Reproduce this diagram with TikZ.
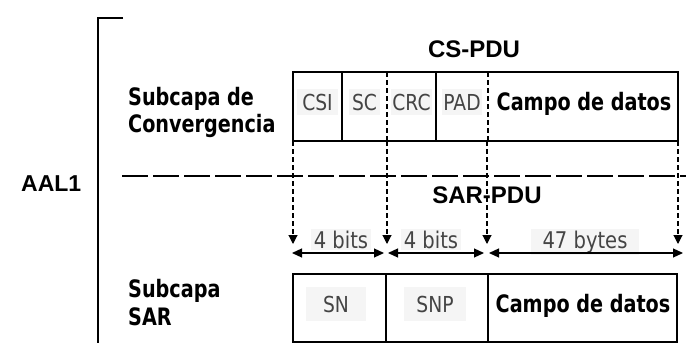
\documentclass[tikz,border=0pt]{standalone}
\usepackage{fontspec}
\usetikzlibrary{arrows.meta}
\newfontfamily\lsans{Liberation Sans}
\newfontfamily\tahb[FakeStretch=0.8]{DejaVu Sans}
\newfontfamily\tahr[FakeStretch=0.85]{DejaVu Sans}
\definecolor{labgray}{HTML}{444444}
\definecolor{bggray}{HTML}{F5F5F5}
\tikzset{
  big/.style={font=\lsans\bfseries\fontsize{24}{28}\selectfont, inner sep=0pt, anchor=base},
  sub/.style={font=\tahb\bfseries\fontsize{24}{28}\selectfont, inner sep=0pt, anchor=base west},
  campo/.style={font=\tahb\bfseries\fontsize{24}{27}\selectfont, inner sep=0pt, anchor=base},
  field/.style={font=\tahr\fontsize{22}{24}\selectfont, text=labgray, fill=bggray, inner xsep=5pt, inner ysep=5pt, anchor=base},
  bits/.style={font=\tahr\fontsize{23}{25}\selectfont, text=labgray, fill=bggray, inner xsep=3pt, inner ysep=2pt, anchor=base},
  boxline/.style={line width=1.3pt},
  vdash/.style={line width=1.1pt, dash pattern=on 5pt off 3pt},
  varrow/.style={vdash, -{Triangle[length=9pt,width=9pt]}},
  dim/.style={line width=1.2pt, {Triangle[length=10pt,width=9pt]}-{Triangle[length=10pt,width=9pt]}},
}
\begin{document}
\begin{tikzpicture}[x=1pt,y=-1pt]
\useasboundingbox (0,0) rectangle (686,343);
% bracket
\coordinate (br1) at (123,18);
\coordinate (br2) at (98,18);
\coordinate (br3) at (98,343);
\draw[line width=1.6pt] (br1) -- (br2) -- (br3);
\node[big, anchor=base west, font=\lsans\bfseries\fontsize{23}{27}\selectfont] (aal) at (21,191) {AAL1};
% left labels
\node[sub] (sc1) at (128,105) {Subcapa de};
\node[sub] (sc2) at (128,132) {Convergencia};
\node[sub] (ss1) at (128,297) {Subcapa};
\node[sub] (ss2) at (128,325) {SAR};
% CS-PDU
\node[big] (cspdu) at (474,57) {CS-PDU};
\coordinate (csnw) at (293,72);
\coordinate (csse) at (678,141);
\coordinate (c1t) at (342,72); \coordinate (c1b) at (342,141);
\coordinate (c2t) at (387,72); \coordinate (c2b) at (387,141);
\coordinate (c3t) at (436,72); \coordinate (c3b) at (436,141);
\coordinate (c4t) at (488,72); \coordinate (c4b) at (488,141);
\node[field] (csi) at (317.5,110) {CSI};
\node[field, inner xsep=3pt] (scf) at (364.5,110) {SC};
\node[field, inner xsep=1pt] (crc) at (411.5,110) {CRC};
\node[field, inner xsep=1pt] (pad) at (462,110) {PAD};
\node[campo] (campo1) at (584,110) {Campo de datos};
\draw[boxline] (csnw) rectangle (csse);
\draw[boxline] (c1t) -- (c1b);
\draw[boxline] (c3t) -- (c3b);
\draw[vdash] (c2t) -- (c2b);
\draw[vdash] (c4t) -- (c4b);
% separator
\coordinate (hl) at (122,176);
\coordinate (hr) at (686,176);
\draw[line width=1.1pt, dash pattern=on 26pt off 5pt] (hl) -- (hr);
% SAR-PDU
\node[big] (sarpdu) at (487,203) {SAR-PDU};
% bits labels
\node[bits] (b1) at (341,248) {4 bits};
\node[bits] (b2) at (431,248) {4 bits};
\node[bits, inner xsep=12pt] (b3) at (585,248) {47 bytes};
% vertical arrows
\coordinate (a1) at (293,141); \coordinate (t1) at (293,244);
\coordinate (a2) at (387,141); \coordinate (t2) at (387,244);
\coordinate (a3) at (487,141); \coordinate (t3) at (487,244);
\coordinate (a4) at (678,141); \coordinate (t4) at (678,244);
\draw[varrow] (a1) -- (t1);
\draw[varrow] (a2) -- (t2);
\draw[varrow] (a3) -- (t3);
\draw[varrow] (a4) -- (t4);
% dimension arrows
\coordinate (d0) at (292,253);
\coordinate (d1) at (384,253);
\coordinate (d2) at (388,253);
\coordinate (d3) at (484,253);
\coordinate (d4) at (489,253);
\coordinate (d5) at (683,253);
\draw[dim] (d0) -- (d1);
\draw[dim] (d2) -- (d3);
\draw[dim] (d4) -- (d5);
% SAR box
\coordinate (snw) at (293,274);
\coordinate (sse) at (677,342);
\coordinate (s1t) at (386,274); \coordinate (s1b) at (386,342);
\coordinate (s2t) at (488,274); \coordinate (s2b) at (488,342);
\node[field, inner xsep=17pt, inner ysep=9pt] (sn) at (336,312) {SN};
\node[field, inner xsep=12pt, inner ysep=9pt] (snp) at (435,312) {SNP};
\node[campo] (campo2) at (583,312) {Campo de datos};
\draw[boxline] (snw) rectangle (sse);
\draw[boxline] (s1t) -- (s1b);
\draw[boxline] (s2t) -- (s2b);
\end{tikzpicture}
\end{document}
